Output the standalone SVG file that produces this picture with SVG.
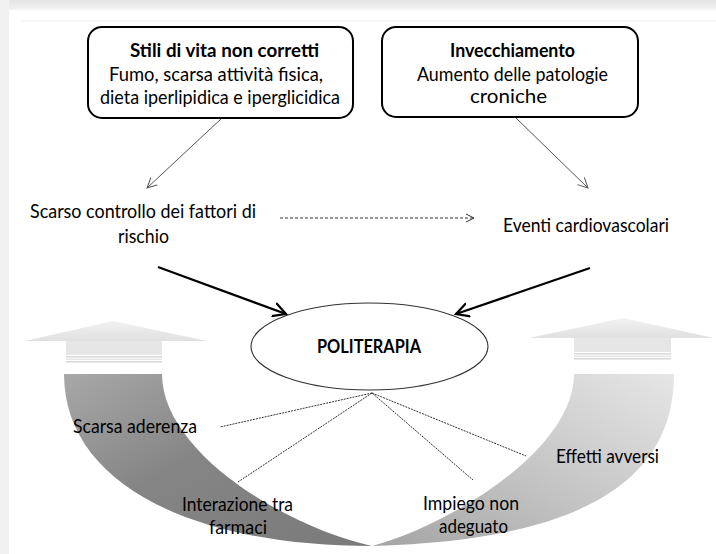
<svg xmlns="http://www.w3.org/2000/svg" width="716" height="554" viewBox="0 0 716 554">
<style>
.t{font-family:Lato,"Open Sans","Liberation Sans",sans-serif;font-size:18.8px;fill:#000}
.b{font-weight:bold}
.box{fill:#fff;stroke:#000;stroke-width:2}
.thin{stroke:#555;stroke-width:1;fill:none}
.thick{stroke:#000;stroke-width:2.2;fill:none}
.dash{stroke:#333;stroke-width:1;fill:none;stroke-dasharray:3 2}
.dot{stroke:#333;stroke-width:1;fill:none;stroke-dasharray:2 1}
</style>
<defs>
<marker id="ah" markerUnits="userSpaceOnUse" markerWidth="12" markerHeight="12" refX="10" refY="5" orient="auto" viewBox="0 0 12 10">
<path d="M0,0 L10,5 L0,10" fill="none" stroke="#555" stroke-width="1"/>
</marker>
<marker id="ahd" markerUnits="userSpaceOnUse" markerWidth="10" markerHeight="10" refX="8" refY="4" orient="auto" viewBox="0 0 10 8">
<path d="M0,0 L8,4 L0,8" fill="none" stroke="#333" stroke-width="1"/>
</marker>
<marker id="ahk" markerUnits="userSpaceOnUse" markerWidth="16" markerHeight="16" refX="13" refY="7" orient="auto" viewBox="0 0 16 14">
<path d="M0,0 L13,7 L0,14" fill="none" stroke="#000" stroke-width="2.2"/>
</marker>
<linearGradient id="gtop" x1="0" y1="0" x2="0" y2="1">
<stop offset="0" stop-color="#e4e4e4"/><stop offset="1" stop-color="#f4f4f4"/>
</linearGradient>
<linearGradient id="gleft" x1="0" y1="0" x2="1" y2="1">
<stop offset="0" stop-color="#a8a8a8"/><stop offset="0.45" stop-color="#858585"/><stop offset="1" stop-color="#7a7a7a"/>
</linearGradient>
<linearGradient id="gright" x1="0" y1="1" x2="1" y2="0">
<stop offset="0" stop-color="#a4a4a4"/><stop offset="0.5" stop-color="#c6c6c6"/><stop offset="1" stop-color="#e6e6e6"/>
</linearGradient>
<linearGradient id="ghead" x1="0" y1="0" x2="0" y2="1">
<stop offset="0" stop-color="#f2f2f2"/><stop offset="1" stop-color="#e0e0e0"/>
</linearGradient>
</defs>
<rect x="0" y="0" width="716" height="554" fill="#fff"/>
<rect x="0" y="0" width="716" height="10" fill="url(#gtop)"/>
<rect x="0" y="0" width="9" height="554" fill="#f1f1f1"/>
<line x1="21" y1="21" x2="716" y2="21" stroke="#f0f0f0" stroke-width="1"/>

<g id="bands">
<path d="M64,374 C64,480 185,546 372,546 C280,525 162,450 162,374 Z" fill="url(#gleft)"/>
<path d="M674,374 C674,470 600,540 372,546 C450,525 574,450 574,374 Z" fill="url(#gright)"/>
</g>
<g id="up-left">
<polygon points="25,341 113,321 207,341" fill="url(#ghead)"/>
<rect x="66" y="341" width="96" height="14" fill="#e6e6e6"/>
<rect x="66" y="356" width="96" height="1.5" fill="#dadada"/>
<rect x="66" y="358.5" width="96" height="1.5" fill="#e6e6e6"/>
<rect x="66" y="361" width="96" height="1.5" fill="#d6d6d6"/>
</g>
<g id="up-right">
<polygon points="529,338 623,318 714,338" fill="url(#ghead)"/>
<rect x="574" y="338" width="97" height="14" fill="#e6e6e6"/>
<rect x="574" y="353" width="97" height="1.5" fill="#dadada"/>
<rect x="574" y="355.5" width="97" height="1.5" fill="#e6e6e6"/>
<rect x="574" y="358" width="97" height="1.5" fill="#d6d6d6"/>
</g>

<g id="connectors">
<line class="thin" x1="222" y1="118" x2="147" y2="188" marker-end="url(#ah)"/>
<line class="thin" x1="516" y1="118" x2="588" y2="188" marker-end="url(#ah)"/>
<line class="dash" x1="280" y1="218" x2="474" y2="218" marker-end="url(#ahd)"/>
<line class="thick" x1="158" y1="267" x2="286" y2="314" marker-end="url(#ahk)"/>
<line class="thick" x1="590" y1="268" x2="456" y2="314" marker-end="url(#ahk)"/>
<line class="dot" x1="372" y1="393" x2="220" y2="427"/>
<line class="dot" x1="372" y1="393" x2="238" y2="482"/>
<line class="dot" x1="372" y1="393" x2="473" y2="480"/>
<line class="dot" x1="372" y1="393" x2="526" y2="456"/>
</g>

<g id="stili">
<rect class="box" x="88" y="27" width="265" height="91" rx="14"/>
<text class="t b" x="130" y="57" textLength="189" lengthAdjust="spacingAndGlyphs">Stili di vita non corretti</text>
<text class="t" x="109" y="81" textLength="214" lengthAdjust="spacingAndGlyphs">Fumo, scarsa attività fisica,</text>
<text class="t" x="100" y="104" textLength="240" lengthAdjust="spacingAndGlyphs">dieta iperlipidica e iperglicidica</text>
</g>
<g id="invecchiamento">
<rect class="box" x="382" y="27" width="256" height="90" rx="14"/>
<text class="t b" x="450" y="56.5" textLength="125" lengthAdjust="spacingAndGlyphs">Invecchiamento</text>
<text class="t" x="417" y="80.5" textLength="191" lengthAdjust="spacingAndGlyphs">Aumento delle patologie</text>
<text class="t" x="470" y="103" textLength="77" lengthAdjust="spacingAndGlyphs">croniche</text>
</g>
<g id="scarso-controllo">
<text class="t" x="30" y="218" textLength="226" lengthAdjust="spacingAndGlyphs">Scarso controllo dei fattori di</text>
<text class="t" x="118" y="243" textLength="51" lengthAdjust="spacingAndGlyphs">rischio</text>
</g>
<g id="eventi">
<text class="t" x="503" y="232" textLength="166" lengthAdjust="spacingAndGlyphs">Eventi cardiovascolari</text>
</g>
<g id="politerapia">
<ellipse cx="369.5" cy="346.5" rx="118.5" ry="43.5" fill="#fff" stroke="#333" stroke-width="1.1"/>
<text class="t b" x="317" y="353" textLength="104" lengthAdjust="spacingAndGlyphs">POLITERAPIA</text>
</g>
<g id="scarsa-aderenza">
<text class="t" x="73" y="433" textLength="124" lengthAdjust="spacingAndGlyphs">Scarsa aderenza</text>
</g>
<g id="interazione">
<text class="t" x="182" y="511" textLength="111" lengthAdjust="spacingAndGlyphs">Interazione tra</text>
<text class="t" x="209" y="534" textLength="58" lengthAdjust="spacingAndGlyphs">farmaci</text>
</g>
<g id="impiego">
<text class="t" x="423" y="510" textLength="96" lengthAdjust="spacingAndGlyphs">Impiego non</text>
<text class="t" x="439" y="533" textLength="69" lengthAdjust="spacingAndGlyphs">adeguato</text>
</g>
<g id="effetti">
<text class="t" x="556" y="463" textLength="103" lengthAdjust="spacingAndGlyphs">Effetti avversi</text>
</g>
</svg>
